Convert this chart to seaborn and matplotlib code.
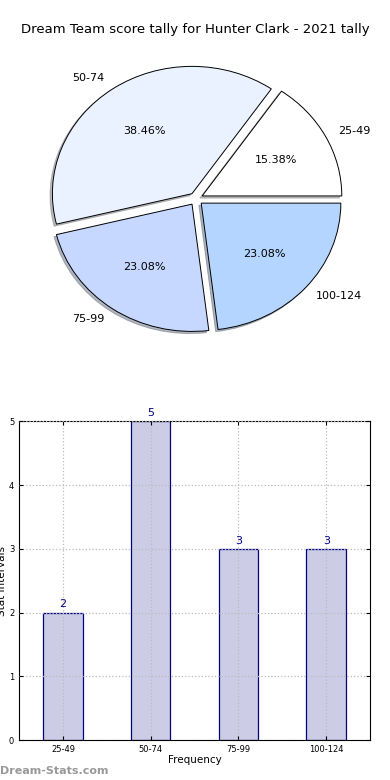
import matplotlib
matplotlib.use("Agg")
import matplotlib.pyplot as plt
import seaborn as sns
import pandas as pd

# data
intervals = ["25-49", "50-74", "75-99", "100-124"]
counts = [2, 5, 3, 3]
pie_colors = ["#FFFFFF", "#EBF2FF", "#C6D8FF", "#B4D5FF"]

sns.set_style("white")
plt.rcParams['font.family'] = ['DejaVu Sans']
plt.rcParams['text.color'] = 'black'
plt.rcParams['xtick.color'] = 'black'
plt.rcParams['ytick.color'] = 'black'
plt.rcParams['axes.labelcolor'] = 'black'

fig = plt.figure(figsize=(3.9, 7.8), dpi=100)

# Pie chart (old-style, not forced to a circle)
ax_pie = fig.add_axes([0.055, 0.541, 0.895, 0.408])
ax_pie.pie(counts, labels=intervals, colors=pie_colors, autopct="%1.2f%%",
           explode=[0.05] * len(counts),
           shadow={"ox": -0.012, "oy": -0.012, "shade": 0.5},
           startangle=0,
           wedgeprops={"edgecolor": "black", "linewidth": 0.7},
           textprops={"fontsize": 8})
ax_pie.set_aspect("auto")
fig.text(0.5, 0.962, "Dream Team score tally for Hunter Clark - 2021 tally",
         ha="center", va="center", fontsize=9.5)

# Bar chart
ax_bar = fig.add_axes([0.049, 0.051, 0.9, 0.409])
df = pd.DataFrame({"interval": intervals, "count": counts})
sns.barplot(data=df, x="interval", y="count", ax=ax_bar, width=0.45,
            color="#CCCCE6", edgecolor="#000080", linewidth=0.9, saturation=1)
ax_bar.set_xlim(-0.5, 3.5)
ax_bar.set_ylim(0, 5)
ax_bar.grid(True, linestyle=":", color="#BBBBBB", linewidth=0.9)
ax_bar.set_axisbelow(False)
for p in ax_bar.patches:
    p.set_zorder(0.5)
ax_bar.tick_params(axis="both", labelsize=6, direction="in", length=3,
                   top=True, right=True, bottom=True, left=True)
for s in ax_bar.spines.values():
    s.set_color("black")
    s.set_linewidth(0.8)
ax_bar.set_xlabel("Frequency", fontsize=7.5, labelpad=1)
ax_bar.set_ylabel("Stat Intervals", fontsize=7.5, labelpad=1)
for i, c in enumerate(counts):
    ax_bar.text(i, c + 0.05, str(c), ha="center", va="bottom",
                color="#000080", fontsize=8)

fig.text(0.0, 0.012, "Dream-Stats.com", color="#999999", fontsize=8,
         fontweight="bold", ha="left", va="center")

fig.savefig("out.png", dpi=100)
